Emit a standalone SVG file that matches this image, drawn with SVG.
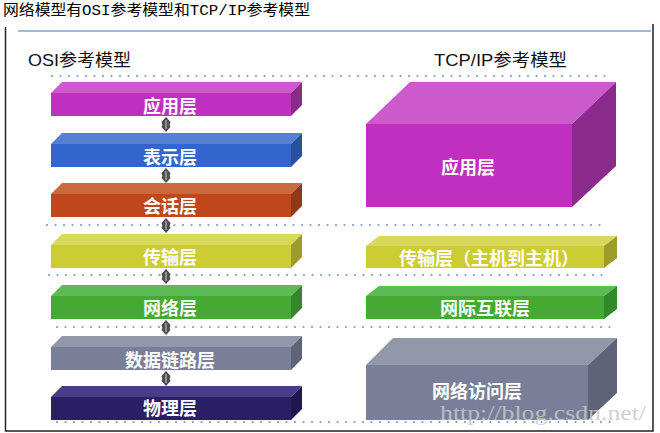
<svg xmlns="http://www.w3.org/2000/svg" width="660" height="433" viewBox="0 0 660 433">
<style>
.title{font-family:"Liberation Mono","Noto Sans CJK SC",monospace;font-size:15px;fill:#000}
.hdr{font-family:"Liberation Sans","Noto Sans CJK SC",sans-serif;font-size:17px;fill:#111}
.lbl{font-family:"Noto Sans CJK SC",sans-serif;font-size:18px;font-weight:600;fill:#fff;text-anchor:middle}
.dots{stroke:#7a9cd0;stroke-width:2.2;stroke-linecap:round;stroke-dasharray:0 8.5;fill:none}
.frame{stroke:#222;stroke-width:1.5;fill:none}
.wm{font-family:"Liberation Serif",serif;font-size:20px;fill:#c8c8c8;fill-opacity:0.85}
</style>
<defs>
<g id="conn">
<path d="M0,0 L4.5,5 Q3,7.5 4.5,10 L0,15 L-4.5,10 Q-3,7.5 -4.5,5 Z" fill="#4e4e4e"/>
<path d="M0,3 L0,12" stroke="#bbbbbb" stroke-width="1.2"/>
</g>
</defs>
<rect width="660" height="433" fill="#fff"/>
<text class="title" x="3" y="15" textLength="307" lengthAdjust="spacingAndGlyphs">网络模型有OSI参考模型和TCP/IP参考模型</text>
<g id="frame">
<path class="frame" d="M5.5,27 V431 H653 V24"/>
<path d="M18,31 H651" stroke="#7d9fd4" stroke-width="1.6"/>
</g>
<text class="hdr" x="28" y="66" textLength="103" lengthAdjust="spacingAndGlyphs">OSI参考模型</text>
<text class="hdr" x="434" y="66" textLength="133" lengthAdjust="spacingAndGlyphs">TCP/IP参考模型</text>
<g id="dotted-lines">
<path class="dots" d="M52,76 H612"/>
<path class="dots" d="M47,225 H607"/>
<path class="dots" d="M49,275 H608"/>
<path class="dots" d="M57,327 H617"/>
<path class="dots" d="M57,422 H617"/>
</g>
<g id="osi-app">
<polygon points="51,93 62,82 302,82 291,93" fill="#cc5acc"/>
<polygon points="291,93 302,82 302,105 291,116" fill="#8a2a8a"/>
<rect x="51" y="93" width="240" height="23" fill="#c030c0"/>
<text class="lbl" x="170" y="113">应用层</text>
</g>
<g id="osi-pres">
<polygon points="51,144 62,133 302,133 291,144" fill="#5580d5"/>
<polygon points="291,144 302,133 302,156 291,167" fill="#2a4f9c"/>
<rect x="51" y="144" width="240" height="23" fill="#3366cc"/>
<text class="lbl" x="170" y="164">表示层</text>
</g>
<g id="osi-sess">
<polygon points="51,194 62,183 302,183 291,194" fill="#cc6a3c"/>
<polygon points="291,194 302,183 302,206 291,217" fill="#93361a"/>
<rect x="51" y="194" width="240" height="23" fill="#c0461c"/>
<text class="lbl" x="170" y="213">会话层</text>
</g>
<g id="osi-trans">
<polygon points="51,245 62,234 302,234 291,245" fill="#d8d85a"/>
<polygon points="291,245 302,234 302,257 291,268" fill="#9c9c2a"/>
<rect x="51" y="245" width="240" height="23" fill="#cccc33"/>
<text class="lbl" x="170" y="264">传输层</text>
</g>
<g id="osi-net">
<polygon points="51,296 62,285 302,285 291,296" fill="#5dbb55"/>
<polygon points="291,296 302,285 302,308 291,319" fill="#338829"/>
<rect x="51" y="296" width="240" height="23" fill="#44aa33"/>
<text class="lbl" x="170" y="315">网络层</text>
</g>
<g id="osi-link">
<polygon points="51,347 62,336 302,336 291,347" fill="#9297aa"/>
<polygon points="291,347 302,336 302,359 291,370" fill="#5f6377"/>
<rect x="51" y="347" width="240" height="23" fill="#7a7f99"/>
<text class="lbl" x="170" y="367">数据链路层</text>
</g>
<g id="osi-phys">
<polygon points="51,397 62,386 302,386 291,397" fill="#4a3d88"/>
<polygon points="291,397 302,386 302,409 291,420" fill="#1f1850"/>
<rect x="51" y="397" width="240" height="23" fill="#2a1f66"/>
<text class="lbl" x="170" y="415">物理层</text>
</g>
<g id="connectors">
<use href="#conn" x="166" y="117"/>
<use href="#conn" x="166" y="168"/>
<use href="#conn" x="166" y="218"/>
<use href="#conn" x="166" y="269"/>
<use href="#conn" x="166" y="320"/>
<use href="#conn" x="166" y="371"/>
</g>
<g id="tcp-app">
<polygon points="366,124 410,82 616,82 572,124" fill="#cc5acc"/>
<polygon points="572,124 616,82 616,166 572,207" fill="#8a2a8a"/>
<rect x="366" y="124" width="206" height="83" fill="#c030c0"/>
<text class="lbl" x="468" y="174">应用层</text>
</g>
<g id="tcp-trans">
<polygon points="366,246 379,236 617,236 604,246" fill="#d8d85a"/>
<polygon points="604,246 617,236 617,258 604,268" fill="#9c9c2a"/>
<rect x="366" y="246" width="238" height="22" fill="#cccc33"/>
<text class="lbl" x="489" y="265">传输层（主机到主机）</text>
</g>
<g id="tcp-inet">
<polygon points="366,296 379,286 617,286 604,296" fill="#5dbb55"/>
<polygon points="604,296 617,286 617,309 604,319" fill="#338829"/>
<rect x="366" y="296" width="238" height="23" fill="#44aa33"/>
<text class="lbl" x="485" y="315">网际互联层</text>
</g>
<g id="tcp-access">
<polygon points="366,365 393,338 617,338 588,365" fill="#9297aa"/>
<polygon points="588,365 617,338 617,393 588,420" fill="#5f6377"/>
<rect x="366" y="365" width="222" height="55" fill="#7a7f99"/>
<text class="lbl" x="477" y="398">网络访问层</text>
</g>
<text class="wm" x="440" y="420" textLength="206" lengthAdjust="spacingAndGlyphs">http://blog.csdn.net/</text>
</svg>
